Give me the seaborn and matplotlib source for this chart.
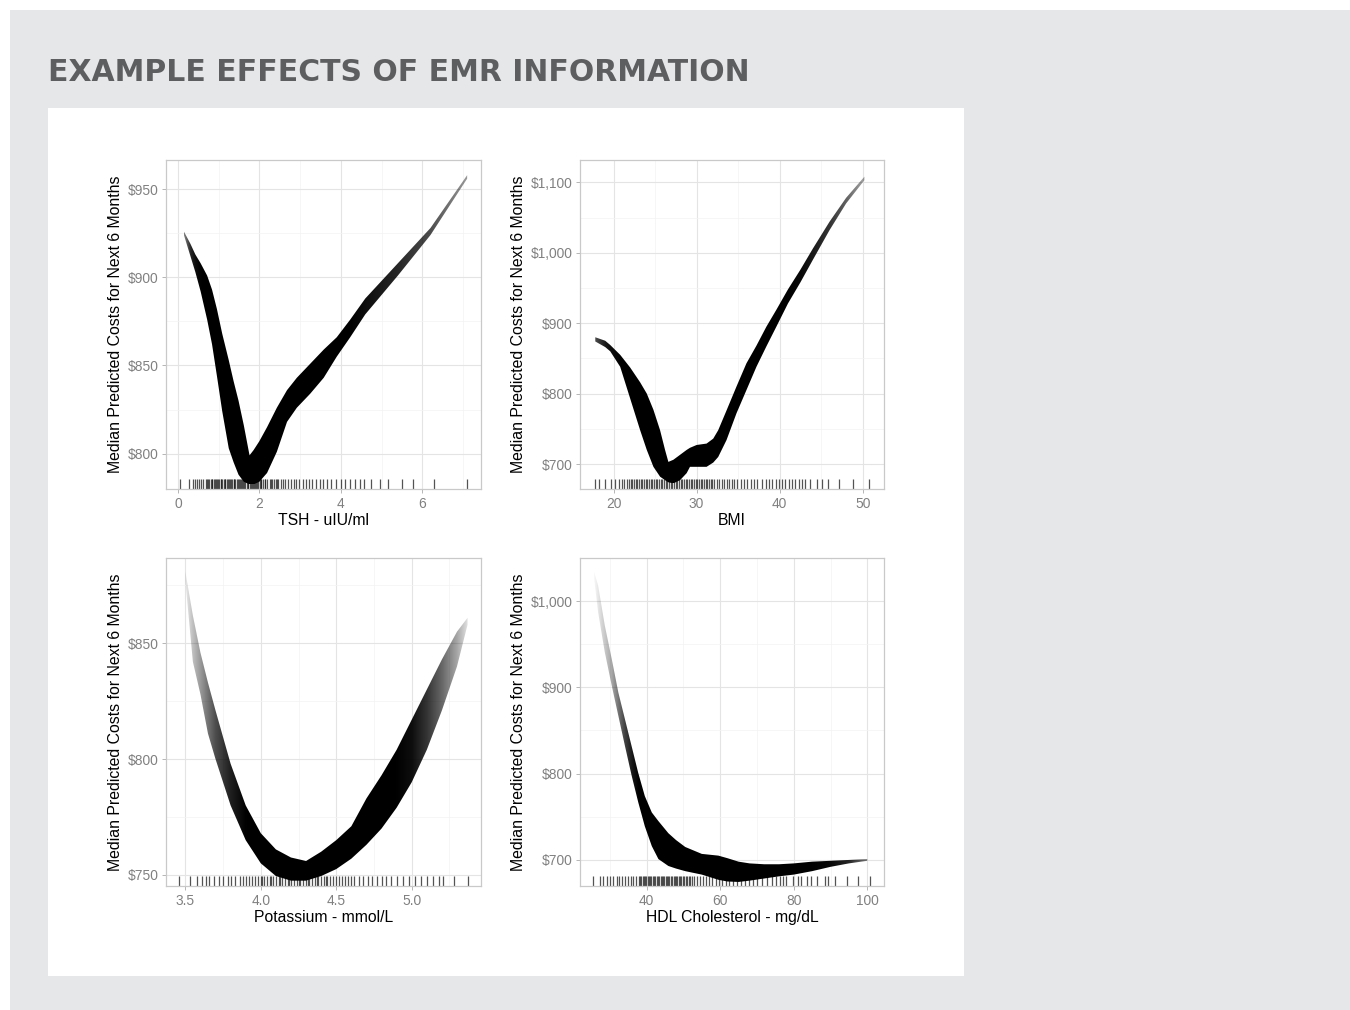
import numpy as np
import matplotlib
matplotlib.use("Agg")
import matplotlib.pyplot as plt
from matplotlib.patches import Rectangle
from matplotlib.ticker import FuncFormatter, FixedLocator
import seaborn as sns

# ---------------- data ----------------
TITLE = "EXAMPLE EFFECTS OF EMR INFORMATION"
Y_LABEL = "Median Predicted Costs for Next 6 Months"

# TSH panel
tsh_x = [0.15, 0.31, 0.43, 0.56, 0.72, 0.84, 0.96, 1.09, 1.25, 1.37, 1.49, 1.62, 1.76, 1.86, 2.0,
         2.19, 2.43, 2.68, 2.92, 3.25, 3.58, 3.9, 4.23, 4.6, 5.4, 6.2, 7.1]
tsh_hi = [926, 919, 913, 908, 901, 893, 882, 868, 853, 841, 830, 816, 799, 802, 807,
          815, 826, 836, 843, 851, 859, 866, 876, 888, 908, 928, 958]
tsh_lo = [924, 912, 903, 892, 876, 862, 844, 824, 803, 795, 788, 784, 782.5, 782.5, 784,
          789, 801, 818, 826, 834, 843, 855, 866, 879, 901, 924, 956]
tsh_alpha = [0.5, 0.85, 0.95, 1, 1, 1, 1, 1, 1, 1, 1, 1, 1, 1, 1,
             1, 1, 1, 1, 1, 1, 1, 1, 0.95, 0.85, 0.7, 0.4]
tsh_rug = [0.05, 0.27, 0.37, 0.42, 0.48, 0.53, 0.58, 0.63, 0.68, 0.72, 0.75, 0.77, 0.81, 0.83, 0.85,
           0.89, 0.91, 0.93, 0.97, 0.99, 1.01, 1.05, 1.07, 1.09, 1.13, 1.15, 1.17, 1.21, 1.23, 1.25,
           1.29, 1.31, 1.33, 1.37, 1.39, 1.41, 1.45, 1.47, 1.49, 1.53, 1.55, 1.57, 1.61, 1.63, 1.65,
           1.69, 1.71, 1.73, 1.77, 1.79, 1.81, 1.85, 1.87, 1.89, 1.93, 1.95, 1.97, 2.01, 2.03, 2.05,
           2.1, 2.13, 2.15, 2.2, 2.25, 2.28, 2.3, 2.35, 2.4, 2.43, 2.46, 2.52, 2.58, 2.64, 2.7,
           2.77, 2.84, 2.91, 2.98, 3.06, 3.14, 3.22, 3.3, 3.39, 3.48, 3.57, 3.67, 3.77, 3.88, 4.0,
           4.1, 4.23, 4.35, 4.47, 4.58, 4.73, 4.95, 5.17, 5.49, 5.78, 6.29, 7.09]

# BMI panel
bmi_x = [17.8, 19, 19.6, 20.8, 22, 23.2, 24, 24.8, 25.6, 26.2, 26.6, 27.2, 28, 28.8, 29.2, 30,
         31.2, 32, 32.6, 33.6, 34.8, 36, 37.2, 38.4, 39.6, 41, 42.5, 44, 46, 48, 50.2]
bmi_hi = [880, 875, 869, 855, 837, 816, 800, 777, 748, 720, 703, 706, 713, 720, 723, 727,
          729, 736, 748, 776, 810, 843, 868, 895, 919, 948, 976, 1006, 1044, 1078, 1108]
bmi_lo = [874, 866, 860, 838, 793, 748, 720, 696, 682, 677, 674, 672.5, 677, 687, 696, 696,
          696, 702, 710, 734, 772, 805, 838, 867, 895, 928, 958, 990, 1032, 1070, 1103]
bmi_alpha = [0.7, 0.9, 0.95, 1, 1, 1, 1, 1, 1, 1, 1, 1, 1, 1, 1, 1,
             1, 1, 1, 1, 1, 1, 1, 1, 1, 1, 0.97, 0.9, 0.8, 0.62, 0.35]
bmi_rug = [17.8, 18.3, 19.0, 19.7, 20.2, 20.6, 21.0, 21.3, 21.6, 21.9, 22.1, 22.2, 22.5, 22.7, 22.8,
           23.1, 23.3, 23.4, 23.7, 23.9, 24.0, 24.3, 24.5, 24.6, 24.9, 25.1, 25.2, 25.5, 25.7, 25.8,
           26.1, 26.3, 26.4, 26.7, 26.9, 27.0, 27.3, 27.5, 27.6, 27.9, 28.1, 28.2, 28.5, 28.7, 28.8,
           29.1, 29.3, 29.4, 29.7, 29.9, 30.0, 30.3, 30.5, 30.6, 30.9, 31.1, 31.2, 31.5, 31.7, 31.8,
           32.1, 32.4, 32.7, 33.0, 33.3, 33.6, 33.9, 34.2, 34.5, 34.9, 35.3, 35.7, 36.1,
           36.5, 36.9, 37.3, 37.9, 38.3, 38.7, 39.1, 39.5, 39.9, 40.3, 40.7, 41.1, 41.5, 41.9,
           42.3, 42.7, 43.1, 43.7, 44.5, 45.1, 45.8, 47.2, 48.8, 50.8]

# Potassium panel
k_x = [3.5, 3.55, 3.6, 3.65, 3.7, 3.8, 3.9, 4.0, 4.1, 4.2, 4.3, 4.4, 4.5, 4.6, 4.7, 4.8, 4.9,
       5.0, 5.1, 5.2, 5.3, 5.37]
k_hi = [881, 862, 846, 833, 821, 798, 780, 768, 761, 757.5, 756, 760, 765, 771, 783, 793, 804,
        817, 830, 843, 855, 861]
k_lo = [877, 842, 828, 811, 800, 780, 765, 755, 749.5, 747.5, 747.5, 749.5, 752.5, 757, 763, 770,
        779, 790, 804, 821, 840, 858]
k_alpha = [0.08, 0.25, 0.4, 0.55, 0.7, 0.88, 1, 1, 1, 1, 1, 1, 1, 1, 1, 1, 1,
           0.95, 0.8, 0.6, 0.35, 0.12]
k_rug = [3.46, 3.53, 3.58, 3.61, 3.64, 3.66, 3.69, 3.72, 3.75, 3.78, 3.8, 3.83, 3.86, 3.88, 3.9,
         3.92, 3.94, 3.96, 3.98, 4.0, 4.01, 4.02, 4.04, 4.06, 4.07, 4.08, 4.1, 4.12, 4.13, 4.14,
         4.16, 4.18, 4.19, 4.2, 4.22, 4.24, 4.25, 4.26, 4.28, 4.3, 4.31, 4.32, 4.34, 4.36, 4.37,
         4.38, 4.4, 4.42, 4.43, 4.44, 4.46, 4.48, 4.5, 4.52, 4.54, 4.56, 4.58, 4.6, 4.62, 4.65,
         4.68, 4.71, 4.74, 4.77, 4.8, 4.83, 4.86, 4.9, 4.94, 4.98, 5.02, 5.06, 5.1, 5.14, 5.18,
         5.21, 5.28, 5.37]

# HDL panel
hdl_x = [25.7, 26.8, 28.6, 30.5, 32.3, 34.1, 35.9, 37.7, 39.5, 41.4, 43.2, 45.9, 48, 50.5, 55,
         59.5, 62, 65, 68, 72, 76, 80, 85, 90, 95, 100]
hdl_hi = [1034, 1018, 972, 933, 894, 863, 832, 801, 774, 755, 745, 731, 723, 715, 707,
          705, 702, 698, 696, 695, 695, 696, 698, 699, 700, 701]
hdl_lo = [1026, 987, 941, 902, 867, 832, 798, 767, 739, 716, 701, 693, 690, 687, 683,
          677, 675, 674.5, 676, 678.5, 681, 683, 687, 692, 696, 699]
hdl_alpha = [0.03, 0.1, 0.22, 0.35, 0.55, 0.75, 0.9, 1, 1, 1, 1, 1, 1, 1, 1,
             1, 1, 1, 1, 1, 1, 1, 1, 0.97, 0.85, 0.5]
hdl_rug = [25.5, 27.3, 28.2, 29.1, 30.0, 30.9, 31.8, 32.6, 33.4, 34.2, 35.0, 35.7, 36.4, 37.1,
           37.8, 38.2, 38.5, 38.9, 39.2, 39.6, 39.9, 40.3, 40.6, 41.0, 41.3, 41.7, 42.0, 42.4,
           42.7, 43.1, 43.4, 43.8, 44.1, 44.5, 44.8, 45.2, 45.5, 45.9, 46.2, 46.6, 46.9, 47.3,
           47.6, 48.0, 48.3, 48.7, 49.0, 49.4, 49.8, 50.2, 50.6, 51.0, 51.4, 51.8, 52.2, 53.0,
           53.8, 54.6, 55.4, 56.2, 57.0, 57.9, 58.8, 59.7, 60.6, 61.5, 62.5, 63.5, 64.5, 65.6,
           66.7, 67.8, 68.9, 70.1, 71.3, 72.6, 74.0, 75.3, 76.2, 77.1, 78.0, 79.9, 81.2, 82.1,
           83.5, 84.8, 86.2, 88.5, 89.4, 91.2, 94.4, 97.6, 100.7]

panels = [
    dict(x=tsh_x, hi=tsh_hi, lo=tsh_lo, alpha=tsh_alpha, rug=tsh_rug, xlabel="TSH - uIU/ml",
         xlim=(-0.29, 7.44), ylim=(779.9, 966.6), xt=[0, 2, 4, 6], xm=[1, 3, 5, 7],
         yt=[800, 850, 900, 950], ym=[825, 875, 925], xfmt="{:.0f}"),
    dict(x=bmi_x, hi=bmi_hi, lo=bmi_lo, alpha=bmi_alpha, rug=bmi_rug, xlabel="BMI",
         xlim=(15.96, 52.56), ylim=(664.5, 1131.7), xt=[20, 30, 40, 50], xm=[25, 35, 45],
         yt=[700, 800, 900, 1000, 1100], ym=[750, 850, 950, 1050], xfmt="{:.0f}"),
    dict(x=k_x, hi=k_hi, lo=k_lo, alpha=k_alpha, rug=k_rug, xlabel="Potassium - mmol/L",
         xlim=(3.372, 5.459), ylim=(745.2, 886.8), xt=[3.5, 4.0, 4.5, 5.0],
         xm=[3.75, 4.25, 4.75, 5.25], yt=[750, 800, 850], ym=[775, 825, 875], xfmt="{:.1f}"),
    dict(x=hdl_x, hi=hdl_hi, lo=hdl_lo, alpha=hdl_alpha, rug=hdl_rug,
         xlabel="HDL Cholesterol - mg/dL", xlim=(21.87, 104.55), ylim=(669.8, 1049.9),
         xt=[40, 60, 80, 100], xm=[30, 50, 70, 90], yt=[700, 800, 900, 1000],
         ym=[750, 850, 950], xfmt="{:.0f}"),
]

# ---------------- figure ----------------
sns.set_theme(style="white")
plt.rcParams["font.family"] = ["Liberation Sans", "DejaVu Sans"]

W, H = 1350, 1010
fig = plt.figure(figsize=(W / 100, H / 100), dpi=100)
fig.patch.set_facecolor("white")

def px_rect(x0, y0, x1, y1):
    return [x0 / W, 1 - y1 / H, (x1 - x0) / W, (y1 - y0) / H]

bg = px_rect(10, 10, 1350, 1010)
fig.patches.append(Rectangle((bg[0], bg[1]), bg[2], bg[3], transform=fig.transFigure,
                             facecolor="#e6e7e9", edgecolor="none", zorder=-3))
wp = px_rect(48, 108, 964, 976)
fig.patches.append(Rectangle((wp[0], wp[1]), wp[2], wp[3], transform=fig.transFigure,
                             facecolor="white", edgecolor="none", zorder=-2))

fig.text(48 / W, 1 - 81 / H, TITLE, family=["DejaVu Sans"], weight="bold",
         fontsize=21.5, color="#5d5e60", ha="left", va="baseline")

boxes = [px_rect(166, 160, 481, 489), px_rect(580, 160, 884, 489),
         px_rect(166, 558, 481, 886), px_rect(580, 558, 884, 886)]

money = FuncFormatter(lambda v, p: "${:,.0f}".format(v))

for box, P in zip(boxes, panels):
    ax = fig.add_axes(box)
    ax.set_facecolor("white")
    x = np.array(P["x"], float)
    lo = np.array(P["lo"], float)
    hi = np.array(P["hi"], float)

    poly = ax.fill_between(x, lo, hi, facecolor="none", edgecolor="none", lw=0, zorder=3)
    xs = np.linspace(x[0], x[-1], 600)
    img = np.zeros((1, xs.size, 4))
    img[..., 3] = np.interp(xs, x, P["alpha"])
    im = ax.imshow(img, extent=[x[0], x[-1], lo.min(), hi.max()], aspect="auto",
                   interpolation="bilinear", zorder=3)
    im.set_clip_path(poly.get_paths()[0], transform=ax.transData)

    sns.rugplot(x=P["rug"], ax=ax, height=0.03, color="#1a1a1a", alpha=0.75,
                linewidth=0.9, zorder=2)

    ax.set_xlim(*P["xlim"])
    ax.set_ylim(*P["ylim"])
    ax.xaxis.set_major_locator(FixedLocator(P["xt"]))
    ax.xaxis.set_minor_locator(FixedLocator(P["xm"]))
    ax.yaxis.set_major_locator(FixedLocator(P["yt"]))
    ax.yaxis.set_minor_locator(FixedLocator(P["ym"]))
    ax.xaxis.set_major_formatter(FuncFormatter(lambda v, p, f=P["xfmt"]: f.format(v)))
    ax.yaxis.set_major_formatter(money)

    ax.grid(True, which="major", color="#e4e4e4", linewidth=0.8, zorder=0)
    ax.grid(True, which="minor", color="#f3f3f3", linewidth=0.5, zorder=0)
    ax.set_axisbelow(True)
    for s in ax.spines.values():
        s.set_color("#c9c9c9")
        s.set_linewidth(0.9)
    ax.tick_params(which="major", length=3, width=0.7, color="#b5b5b5",
                   labelcolor="#808080", labelsize=9.9, pad=2.5, bottom=True, left=True)
    ax.tick_params(which="minor", length=0)

    ax.set_xlabel(P["xlabel"], fontsize=11.3, color="black", labelpad=1.5)
    ax.set_ylabel(Y_LABEL, fontsize=11.4, color="black", labelpad=3)

fig.savefig("out.png", dpi=100)
